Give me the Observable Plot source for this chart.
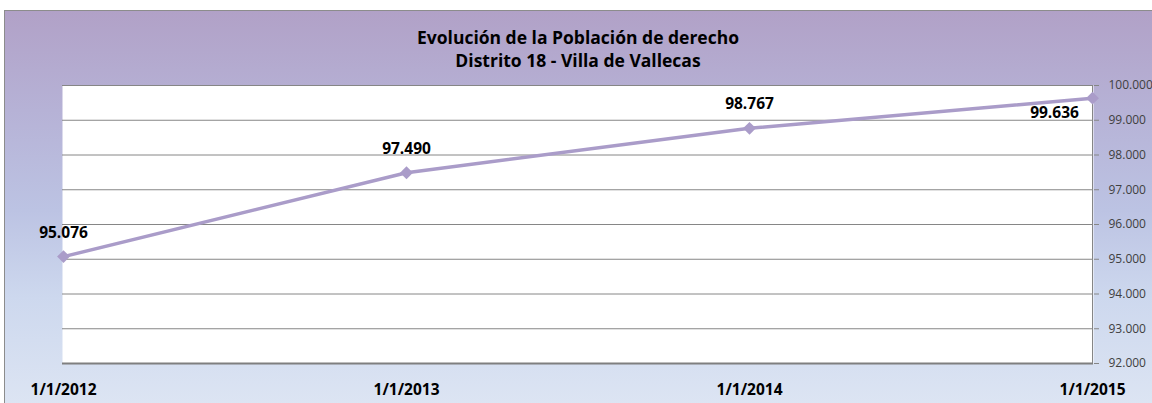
<!DOCTYPE html>
<html>
<head>
<meta charset="utf-8">
<script src="https://cdn.jsdelivr.net/npm/d3@7"></script>
<script src="https://cdn.jsdelivr.net/npm/@observablehq/plot@0.6"></script>
<style>
  html, body { margin: 0; padding: 0; background: #ffffff; overflow: hidden; }
  #wrap { position: relative; width: 1152px; height: 403px; }
  #bg { position: absolute; left: 4px; top: 10px; width: 1150px; height: 400px;
        border: 1px solid #8c8c8c; box-sizing: border-box;
        background: linear-gradient(to bottom, #b1a1c7 0%, #b6b2d6 25%, #bcc3e3 50%, #cdd8ee 72%, #dde5f3 100%); }
  #title { position: absolute; left: 0; top: 26px; width: 1156px; text-align: center;
           font-family: "Open Sans", Lato, sans-serif; font-weight: bold; font-size: 17.5px;
           line-height: 23px; color: #000; }
  #chart { position: absolute; left: 0; top: 0; }
</style>
</head>
<body>
<div id="wrap">
  <div id="bg"></div>
  <div id="title">Evolución de la Población de derecho<br>Distrito 18 - Villa de Vallecas</div>
  <div id="chart"></div>
</div>
<script>
const dates = ["1/1/2012", "1/1/2013", "1/1/2014", "1/1/2015"];
const population = [95076, 97490, 98767, 99636];
const yTicks = [92000, 93000, 94000, 95000, 96000, 97000, 98000, 99000, 100000];

const locale = d3.formatLocale({decimal: ",", thousands: ".", grouping: [3], currency: ["", "€"]});
const fmt = locale.format(",.0f");

const data = dates.map((d, i) => ({date: d, value: population[i], i}));
const last = data.length - 1;
const lineColor = "#aa9cc9";

const chart = Plot.plot({
  width: 1152,
  height: 403,
  marginLeft: 62,
  marginRight: 59,
  marginTop: 85,
  marginBottom: 40,
  style: {background: "transparent", fontFamily: "'Open Sans', Lato, sans-serif"},
  x: {type: "point", domain: dates, padding: 0},
  y: {domain: [92000, 100000]},
  marks: [
    Plot.frame({fill: "white", stroke: "none"}),
    Plot.ruleY(yTicks.filter(t => t !== 92000), {stroke: "#868686", strokeWidth: 1}),
    Plot.ruleY([92000], {stroke: "#7f7f7f", strokeWidth: 2}),
    Plot.ruleX([dates[last]], {y1: 92000, y2: 100000, stroke: "#868686", strokeWidth: 1}),
    Plot.axisY({anchor: "right", ticks: yTicks, tickFormat: fmt, tickSize: 5, tickPadding: 10,
                fontSize: 12, color: "#404040", stroke: "#868686", label: null}),
    Plot.axisX({anchor: "bottom", tickSize: 0, tickPadding: 20, fontSize: 15.5, fontWeight: "bold",
                color: "#000", label: null}),
    Plot.line(data, {x: "date", y: "value", stroke: lineColor, strokeWidth: 3.5}),
    Plot.dot(data, {x: "date", y: "value", symbol: "diamond2", r: 5.8, fill: lineColor, stroke: "none"}),
    Plot.text(data.filter(d => d.i !== last), {x: "date", y: "value", text: d => fmt(d.value),
      dy: -24, fontSize: 15.5, fontWeight: "bold", fill: "#000"}),
    Plot.text(data.filter(d => d.i === last), {x: "date", y: "value", text: d => fmt(d.value),
      dx: -38, dy: 15, fontSize: 15.5, fontWeight: "bold", fill: "#000"})
  ]
});
document.getElementById("chart").appendChild(chart);
</script>
</body>
</html>
